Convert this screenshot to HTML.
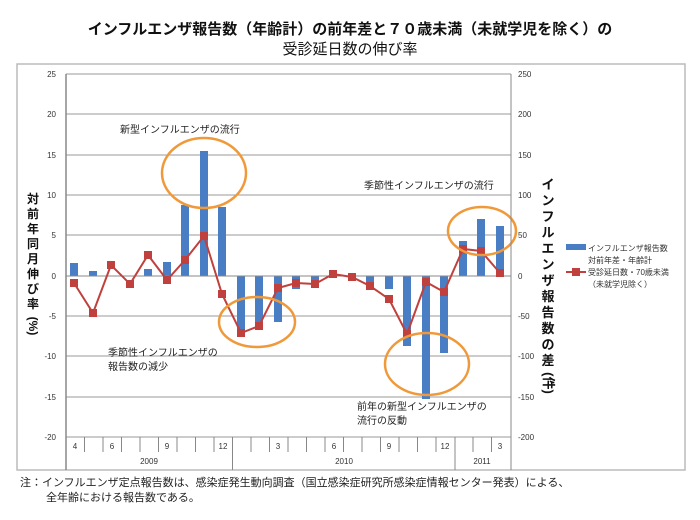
<!DOCTYPE html>
<html><head><meta charset="utf-8"><style>
body{margin:0;background:#fff;}
svg{display:block;font-family:"Liberation Sans","Noto Sans CJK JP",sans-serif;}
</style></head><body>
<svg width="700" height="520" viewBox="0 0 700 520">
<rect width="700" height="520" fill="#fff"/>
<text x="350" y="34" text-anchor="middle" font-size="15" font-weight="bold" fill="#111">インフルエンザ報告数（年齢計）の前年差と７０歳未満（未就学児を除く）の</text>
<text x="350" y="54" text-anchor="middle" font-size="15" fill="#111">受診延日数の伸び率</text>
<rect x="17" y="64" width="668" height="406" fill="none" stroke="#bbb" stroke-width="1.5"/>
<g stroke="#999" stroke-width="1">
<line x1="66" y1="74" x2="511" y2="74"/><line x1="66" y1="114" x2="511" y2="114"/><line x1="66" y1="155" x2="511" y2="155"/><line x1="66" y1="195" x2="511" y2="195"/><line x1="66" y1="235" x2="511" y2="235"/><line x1="66" y1="316" x2="511" y2="316"/><line x1="66" y1="356" x2="511" y2="356"/><line x1="66" y1="397" x2="511" y2="397"/><line x1="66" y1="437" x2="511" y2="437"/>
</g>
<g font-size="8" fill="#333" text-anchor="end">
<text x="56" y="77">25</text><text x="56" y="117">20</text><text x="56" y="158">15</text><text x="56" y="198">10</text><text x="56" y="238">5</text><text x="56" y="279">0</text><text x="56" y="319">-5</text><text x="56" y="359">-10</text><text x="56" y="400">-15</text><text x="56" y="440">-20</text>
</g>
<g font-size="8" fill="#333">
<text x="518" y="77">250</text><text x="518" y="117">200</text><text x="518" y="158">150</text><text x="518" y="198">100</text><text x="518" y="238">50</text><text x="518" y="279">0</text><text x="518" y="319">-50</text><text x="518" y="359">-100</text><text x="518" y="400">-150</text><text x="518" y="440">-200</text>
</g>
<g fill="#4a7ec4">
<rect x="70" y="263" width="8" height="13"/><rect x="89" y="271" width="8" height="5"/><rect x="144" y="269" width="8" height="7"/><rect x="163" y="262" width="8" height="14"/><rect x="181" y="205" width="8" height="71"/><rect x="200" y="151" width="8" height="125"/><rect x="218" y="207" width="8" height="69"/>
<rect x="237" y="276" width="8" height="57"/><rect x="255" y="276" width="8" height="51"/><rect x="274" y="276" width="8" height="46"/><rect x="292" y="276" width="8" height="13"/><rect x="311" y="276" width="8" height="4"/><rect x="366" y="276" width="8" height="6"/><rect x="385" y="276" width="8" height="13"/><rect x="403" y="276" width="8" height="70"/><rect x="422" y="276" width="8" height="123"/><rect x="440" y="276" width="8" height="77"/><rect x="459" y="241" width="8" height="35"/><rect x="477" y="219" width="8" height="57"/><rect x="496" y="226" width="8" height="50"/>
</g>
<line x1="66" y1="276" x2="511" y2="276" stroke="#888" stroke-width="1"/>
<polyline fill="none" stroke="#c0403d" stroke-width="2" points="74,283 93,313 111,265 130,284 148,255 167,280 185,260 204,236 222,294 241,333 259,326 278,288 296,283 315,284 333,274 352,277 370,286 389,299 407,334 426,282 444,292 463,249 481,251 500,273"/>
<g fill="#c0403d">
<rect x="70" y="279" width="8" height="8"/><rect x="89" y="309" width="8" height="8"/><rect x="107" y="261" width="8" height="8"/><rect x="126" y="280" width="8" height="8"/><rect x="144" y="251" width="8" height="8"/><rect x="163" y="276" width="8" height="8"/><rect x="181" y="256" width="8" height="8"/><rect x="200" y="232" width="8" height="8"/><rect x="218" y="290" width="8" height="8"/><rect x="237" y="329" width="8" height="8"/><rect x="255" y="322" width="8" height="8"/><rect x="274" y="284" width="8" height="8"/><rect x="292" y="279" width="8" height="8"/><rect x="311" y="280" width="8" height="8"/><rect x="329" y="270" width="8" height="8"/><rect x="348" y="273" width="8" height="8"/><rect x="366" y="282" width="8" height="8"/><rect x="385" y="295" width="8" height="8"/><rect x="403" y="330" width="8" height="8"/><rect x="422" y="278" width="8" height="8"/><rect x="440" y="288" width="8" height="8"/><rect x="459" y="245" width="8" height="8"/><rect x="477" y="247" width="8" height="8"/><rect x="496" y="269" width="8" height="8"/>
</g>
<g fill="none" stroke="#f0993a" stroke-width="2.5">
<ellipse cx="204" cy="173" rx="42" ry="35"/><ellipse cx="257" cy="322" rx="38" ry="25"/><ellipse cx="427" cy="364" rx="42" ry="31"/><ellipse cx="482" cy="231" rx="34" ry="24"/>
</g>
<line x1="66" y1="74" x2="66" y2="470" stroke="#888" stroke-width="1.5"/>
<line x1="511" y1="74" x2="511" y2="470" stroke="#888" stroke-width="1"/>
<g stroke="#888" stroke-width="1">
<line x1="84.5" y1="437" x2="84.5" y2="452"/><line x1="103" y1="437" x2="103" y2="452"/><line x1="121.5" y1="437" x2="121.5" y2="452"/><line x1="140" y1="437" x2="140" y2="452"/><line x1="158.5" y1="437" x2="158.5" y2="452"/><line x1="177" y1="437" x2="177" y2="452"/><line x1="195.5" y1="437" x2="195.5" y2="452"/><line x1="214" y1="437" x2="214" y2="452"/><line x1="251" y1="437" x2="251" y2="452"/><line x1="269.5" y1="437" x2="269.5" y2="452"/><line x1="288" y1="437" x2="288" y2="452"/><line x1="306.5" y1="437" x2="306.5" y2="452"/><line x1="325" y1="437" x2="325" y2="452"/><line x1="343.5" y1="437" x2="343.5" y2="452"/><line x1="362" y1="437" x2="362" y2="452"/><line x1="380.5" y1="437" x2="380.5" y2="452"/><line x1="399" y1="437" x2="399" y2="452"/><line x1="417.5" y1="437" x2="417.5" y2="452"/><line x1="436" y1="437" x2="436" y2="452"/><line x1="473" y1="437" x2="473" y2="452"/><line x1="491.5" y1="437" x2="491.5" y2="452"/>
<line x1="232.5" y1="437" x2="232.5" y2="470"/><line x1="455" y1="437" x2="455" y2="470"/>
</g>
<g font-size="8" fill="#333" text-anchor="middle">
<text x="75" y="449">4</text><text x="112" y="449">6</text><text x="167" y="449">9</text><text x="223" y="449">12</text><text x="278" y="449">3</text><text x="334" y="449">6</text><text x="389" y="449">9</text><text x="445" y="449">12</text><text x="500" y="449">3</text>
<text x="149" y="464">2009</text><text x="344" y="464">2010</text><text x="482" y="464">2011</text>
</g>
<g font-size="10" fill="#222">
<text x="120" y="133">新型インフルエンザの流行</text>
<text x="364" y="189">季節性インフルエンザの流行</text>
<text x="108" y="356">季節性インフルエンザの</text>
<text x="108" y="370">報告数の減少</text>
<text x="357" y="410">前年の新型インフルエンザの</text>
<text x="357" y="424">流行の反動</text>
</g>
<g font-size="12" font-weight="bold" fill="#111" text-anchor="middle">
<text x="33" y="203">対</text><text x="33" y="218">前</text><text x="33" y="233">年</text><text x="33" y="248">同</text><text x="33" y="263">月</text><text x="33" y="278">伸</text><text x="33" y="293">び</text><text x="33" y="308">率</text>
<text x="33" y="330" transform="rotate(90 33 326)">(%)</text>
</g>
<g font-size="13" font-weight="bold" fill="#111" text-anchor="middle">
<text x="548" y="189">イ</text><text x="548" y="205">ン</text><text x="548" y="221">フ</text><text x="548" y="237">ル</text><text x="548" y="253">エ</text><text x="548" y="269">ン</text><text x="548" y="285">ザ</text><text x="548" y="301">報</text><text x="548" y="317">告</text><text x="548" y="333">数</text><text x="548" y="349">の</text><text x="548" y="365">差</text>
<text x="548" y="387" transform="rotate(90 548 383)">(件)</text>
</g>
<rect x="566" y="244" width="20" height="6" fill="#4a7ec4"/>
<line x1="566" y1="272" x2="586" y2="272" stroke="#c0403d" stroke-width="2"/>
<rect x="572" y="268" width="8" height="8" fill="#c0403d"/>
<g font-size="8" fill="#333">
<text x="588" y="251">インフルエンザ報告数</text><text x="588" y="263">対前年差・年齢計</text>
<text x="588" y="275">受診延日数・70歳未満</text><text x="588" y="287">（未就学児除く）</text>
</g>
<g font-size="11" fill="#222">
<text x="20" y="486">注：インフルエンザ定点報告数は、感染症発生動向調査（国立感染症研究所感染症情報センター発表）による、</text>
<text x="46" y="501">全年齢における報告数である。</text>
</g>
</svg>
</body></html>
